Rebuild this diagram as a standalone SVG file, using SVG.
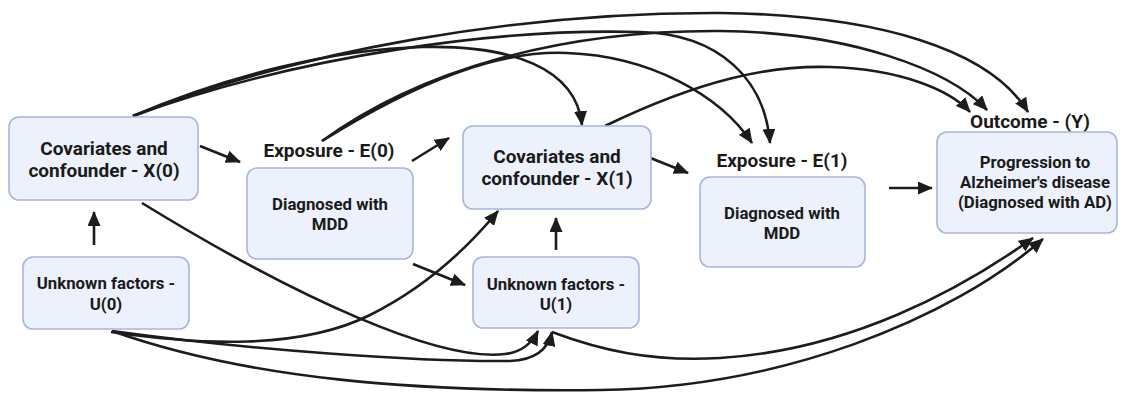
<svg xmlns="http://www.w3.org/2000/svg" width="1127" height="394" viewBox="0 0 1127 394">
<defs>
<style>
.box{fill:#edf1fb;stroke:#a7b5e2;stroke-width:1.6}
.t{font-family:Roboto,"Liberation Sans",sans-serif;font-weight:700;fill:#1a1a1a;text-anchor:middle}
.big{font-size:19px}
.sm{font-size:16.8px}
.c{fill:none;stroke:#1c1c1c;stroke-width:2.6;marker-end:url(#ah)}
</style>
<marker id="ah" markerUnits="userSpaceOnUse" markerWidth="15" markerHeight="13" refX="14" refY="6.5" orient="auto">
<path d="M0,0 L15,6.5 L0,13 z" fill="#1c1c1c"/>
</marker>
</defs>
<rect width="1127" height="394" fill="#ffffff"/>

<g id="connectors">
<path class="c" d="M94,245 L94,212"/>
<path class="c" d="M200,146 L240,162"/>
<path class="c" d="M412,161 L449,138"/>
<path class="c" d="M648,157 L688,173"/>
<path class="c" d="M556,250 L556,218"/>
<path class="c" d="M413,264 L465,285"/>
<path class="c" d="M889,188 L932,188"/>
<!-- top curves -->
<path class="c" d="M133,116 C320,35 570,10 582,125"/>
<path class="c" d="M133,116 C300,50 520,12 720,13 C880,15 990,50 1028,112"/>
<path class="c" d="M133,116 C300,55 500,28 640,32 C720,34 765,80 770,143"/>
<path class="c" d="M322,141 C420,80 500,50 567,53 C650,56 720,95 752,143"/>
<path class="c" d="M322,141 C420,70 560,30 720,31 C850,32 950,70 987,110"/>
<path class="c" d="M605,126 C700,80 770,65 830,67 C900,69 950,90 970,112"/>
<!-- bottom curves -->
<path class="c" d="M142,203 C300,300 440,362 505,354 C522,352 532,343 538,331"/>
<path class="c" d="M111,332 C200,345 300,350 370,315 C430,285 470,245 498,211"/>
<path class="c" d="M112,331 C250,350 420,362 510,361 C535,360 548,350 552,332"/>
<path class="c" d="M552,332 C600,350 650,362 720,358 C850,350 960,290 1033,238"/>
<path class="c" d="M112,331 C250,380 420,392 600,390 C780,388 950,320 1043,239"/>
</g>

<g id="X0">
<rect class="box" x="9" y="117" width="189" height="83" rx="10"/>
<text class="t big" x="104" y="155">Covariates and</text>
<text class="t big" x="104" y="177">confounder - X(0)</text>
</g>
<g id="U0">
<rect class="box" x="23" y="257" width="166" height="72" rx="10"/>
<text class="t sm" x="106" y="289">Unknown factors -</text>
<text class="t sm" x="106" y="310">U(0)</text>
</g>
<g id="E0">
<text class="t big" x="329" y="157">Exposure - E(0)</text>
<rect class="box" x="247" y="168" width="166" height="91" rx="10"/>
<text class="t sm" x="330" y="210">Diagnosed with</text>
<text class="t sm" x="330" y="230">MDD</text>
</g>
<g id="X1">
<rect class="box" x="463" y="126" width="188" height="83" rx="10"/>
<text class="t big" x="557" y="163">Covariates and</text>
<text class="t big" x="557" y="185">confounder - X(1)</text>
</g>
<g id="U1">
<rect class="box" x="473" y="257" width="166" height="71" rx="10"/>
<text class="t sm" x="556" y="290">Unknown factors -</text>
<text class="t sm" x="556" y="310">U(1)</text>
</g>
<g id="E1">
<text class="t big" x="782" y="167">Exposure - E(1)</text>
<rect class="box" x="700" y="177" width="165" height="90" rx="10"/>
<text class="t sm" x="782" y="219">Diagnosed with</text>
<text class="t sm" x="782" y="239">MDD</text>
</g>
<g id="Y">
<text class="t big" x="1030" y="128">Outcome - (Y)</text>
<rect class="box" x="937" y="132" width="180" height="101" rx="10"/>
<text class="t sm" x="1035" y="168">Progression to</text>
<text class="t sm" x="1035" y="188">Alzheimer's disease</text>
<text class="t sm" x="1035" y="208">(Diagnosed with AD)</text>
</g>
</svg>
